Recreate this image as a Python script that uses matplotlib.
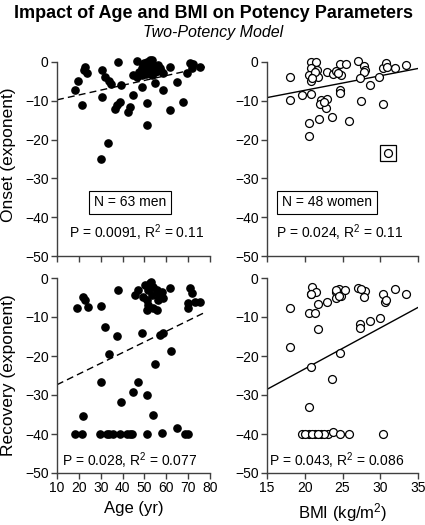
import matplotlib
matplotlib.use("Agg")
import matplotlib.pyplot as plt
import numpy as np

plt.rcParams['font.family'] = ['Liberation Sans', 'DejaVu Sans']
plt.rcParams['mathtext.fontset'] = 'custom'
plt.rcParams['mathtext.rm'] = 'Liberation Sans'
plt.rcParams['mathtext.it'] = 'Liberation Sans:italic'

title = "Impact of Age and BMI on Potency Parameters"
subtitle = "Two-Potency Model"

# Men: onset vs age
age_on = [22.8, 22.4, 23.6, 19.7, 18.2, 21.3, 30.4, 31.9, 33.9, 34.5, 38.0, 39.1, 30.4, 36.7, 37.3, 38.8, 33.2, 30.0,
          46.7, 51.0, 53.3, 54.1, 52.5, 50.3, 55.6, 57.1, 54.8, 61.7, 58.6, 53.3, 44.9, 48.7, 46.4, 48.7, 54.8, 58.6,
          64.7, 69.3, 70.8, 75.4, 71.6, 44.9, 51.0, 43.4, 42.6, 67.8, 61.7, 51.0,
          49.5, 51.0, 52.5, 53.0, 51.8, 49.0, 56.3, 55.6, 52.0, 47.5, 57.8, 50.5, 53.5, 72.2, 49.8]
onset_m = [-1.2, -2.0, -2.9, -5.0, -7.2, -11.0, -2.0, -3.8, -5.0, -5.6, 0.0, -5.8, -8.9, -12.0, -11.0, -10.4, -21.0, -25.1,
           0.3, -0.8, 0.5, -0.8, -1.6, -2.1, -1.2, -1.6, -2.5, -1.2, -2.9, -3.4, -3.4, -3.4, -3.8, -6.4, -5.5, -7.2,
           -5.1, -2.9, -0.3, -1.2, -1.6, -8.5, -10.6, -11.5, -12.8, -10.2, -12.4, -16.2,
           -0.8, 0.1, 0.5, -0.3, -1.2, -1.6, -0.8, -2.2, -2.9, -2.5, -2.2, -3.0, -1.8, -0.5, -0.2]

# Men: recovery vs age
age_rec = [19.0, 22.0, 22.8, 24.3, 30.0, 38.0, 32.0, 37.3, 33.9, 30.0, 44.6, 46.9, 51.0, 39.1, 22.0, 54.1, 54.8, 48.7,
           57.1, 58.6, 62.0,
           45.7, 47.2, 50.3, 52.5, 54.1, 51.8, 49.5, 51.0, 53.3, 55.6, 57.9, 61.7, 58.6, 56.3, 51.8, 54.1, 51.0, 55.6,
           70.8, 71.6, 70.1, 73.1, 75.4, 70.1,
           18.2, 21.3, 29.7, 32.7, 35.8, 38.8, 41.9, 44.2, 51.0, 57.9, 64.8, 68.6, 70.1,
           43.5, 34.0, 53.0, 52.0, 56.8]
recov_m = [-7.8, -4.8, -5.6, -7.4, -7.1, -3.1, -12.6, -14.8, -19.5, -26.6, -29.2, -26.7, -30.0, -31.7, -35.3, -35.1, -22.1,
           -14.2, -14.6, -14.2, -18.7,
           -4.4, -3.1, -1.8, -1.4, -2.2, -3.1, -4.8, -5.6, -4.4, -3.1, -3.5, -2.6, -5.2, -5.6, -6.9, -7.8, -8.2, -8.2,
           -2.6, -3.9, -6.5, -6.1, -6.1, -7.8,
           -40, -40, -40, -40, -40, -40, -40, -40, -40, -39.7, -38.5, -40, -40,
           -40, -40, -1.0, -2.5, -4.0]

# Women: onset vs BMI
bmi_on = [18.1, 18.0, 19.6, 20.8, 21.5, 20.8, 20.6, 21.6, 21.1, 21.7, 20.8, 20.8, 20.5, 20.5, 21.9, 22.2, 22.0, 22.8,
          23.0, 23.6, 23.0, 23.8, 24.2, 24.7, 24.8, 25.4, 24.7, 24.7, 25.8, 27.1, 27.8, 28.0, 27.9, 27.3, 27.4, 28.6,
          29.9, 30.3, 30.8, 30.4, 30.9, 32.0, 33.4, 31.0, 21.3, 22.5, 24.4, 20.9]
onset_w = [-3.8, -9.8, -8.5, 0.0, 0.0, -1.6, -3.4, -2.1, -3.8, -3.8, -4.9, -8.3, -15.8, -19.2, -14.7, -9.8, -10.8, -11.9,
           -9.6, -14.3, -2.5, -3.1, -2.2, -0.5, -3.4, -0.5, -7.2, -8.1, -15.1, 0.3, -1.0, -2.1, -2.6, -4.2, -10.0, -5.9,
           -3.9, -1.6, -0.2, -10.8, -1.4, -1.6, -0.8, -23.5, -2.6, -10.2, -2.8, -4.2]
outlier_bmi = [31.0]
outlier_onset = [-23.5]

# Women: recovery vs BMI
bmi_rec = [18.1, 18.0, 20.9, 20.8, 21.5, 21.7, 20.5, 21.4, 21.7, 20.8, 20.5, 23.0, 24.1, 24.2, 24.6, 24.8, 25.3, 24.7,
           23.6, 27.1, 28.0, 27.9, 27.3, 27.3, 28.6, 30.0, 30.4, 30.6, 30.7, 32.0, 33.4,
           19.6, 20.5, 21.4, 22.2, 23.1, 23.8, 24.7, 25.8, 30.4,
           20.0, 21.0, 22.6, 24.2, 24.5, 20.8, 27.5, 21.8]
recov_w = [-7.6, -17.6, -2.2, -4.2, -3.5, -6.7, -9.1, -9.1, -13.1, -22.7, -33.0, -6.2, -3.7, -5.0, -2.8, -4.5, -3.1, -19.3,
           -26.0, -2.5, -3.3, -4.8, -11.9, -12.7, -11.0, -10.2, -4.2, -6.1, -5.6, -2.9, -4.1,
           -40, -40, -40, -40, -40, -39.4, -40, -40, -40,
           -40, -40, -40, -3.2, -4.6, -4.0, -2.8, -40]

# Regression fits (slope, intercept, x-range)
fit_age_on = (0.125, -11.0, 10, 78)
fit_bmi_on = (0.375, -14.8, 15, 35)
fit_age_rec = (0.274, -30.1, 10, 78)
fit_bmi_rec = (1.05, -44.3, 15, 35)

stats_age_on = "P = 0.0091, R$^2$ = 0.11"
stats_bmi_on = "P = 0.024, R$^2$ = 0.11"
stats_age_rec = "P = 0.028, R$^2$ = 0.077"
stats_bmi_rec = "P = 0.043, R$^2$ = 0.086"
n_men = "N = 63 men"
n_women = "N = 48 women"

age_ticks = [10, 20, 30, 40, 50, 60, 70, 80]
bmi_ticks = [15, 20, 25, 30, 35]
y_ticks = [0, -10, -20, -30, -40, -50]

fig = plt.figure(figsize=(4.25, 5.25), dpi=100)
W, H = 425, 525

def mk_ax(x0, x1, ytop, ybot):
    return fig.add_axes([x0 / W, 1 - ybot / H, (x1 - x0) / W, (ybot - ytop) / H])

ax_tl = mk_ax(57, 210, 62, 256)
ax_tr = mk_ax(267, 418, 62, 256)
ax_bl = mk_ax(57, 210, 278, 473)
ax_br = mk_ax(267, 418, 278, 473)

spine_col = '#404040'
for ax, xt, xl in [(ax_tl, age_ticks, (10, 80)), (ax_bl, age_ticks, (10, 80)),
                   (ax_tr, bmi_ticks, (15, 35)), (ax_br, bmi_ticks, (15, 35))]:
    ax.set_xlim(*xl)
    ax.set_ylim(-50, 0)
    ax.set_xticks(xt)
    ax.set_yticks(y_ticks)
    for s in ['top', 'right']:
        ax.spines[s].set_visible(False)
    for s in ['left', 'bottom']:
        ax.spines[s].set_color(spine_col)
        ax.spines[s].set_linewidth(1.0)
    ax.tick_params(direction='out', length=4, width=1.0, color=spine_col, labelsize=10, pad=2)
    ax.patch.set_alpha(0)

ax_tl.tick_params(labelbottom=False)
ax_tr.tick_params(labelbottom=False)

ms = 5.2
ax_tl.plot(age_on, onset_m, 'o', color='black', ms=ms, clip_on=False, zorder=3)
ax_bl.plot(age_rec, recov_m, 'o', color='black', ms=ms, clip_on=False, zorder=3)
ax_tr.plot(bmi_on, onset_w, 'o', mfc='white', mec='black', mew=0.9, ms=ms + 0.5, clip_on=False, zorder=3)
ax_tr.plot(outlier_bmi, outlier_onset, 's', mfc='none', mec='black', mew=0.9, ms=11, zorder=3)
ax_br.plot(bmi_rec, recov_w, 'o', mfc='white', mec='black', mew=0.9, ms=ms + 0.5, clip_on=False, zorder=3)

def draw_fit(ax, fit, ls):
    m, b, xa, xb = fit
    xs = np.array([xa, xb])
    ax.plot(xs, m * xs + b, color='black', lw=1.0, ls=ls, zorder=2)

draw_fit(ax_tl, fit_age_on, (0, (5, 3)))
draw_fit(ax_bl, fit_age_rec, (0, (5, 3)))
draw_fit(ax_tr, fit_bmi_on, '-')
draw_fit(ax_br, fit_bmi_rec, '-')

box = dict(boxstyle='square,pad=0.35', fc='white', ec='black', lw=0.8)
ax_tl.text(43.6, -36.2, n_men, ha='center', va='center', fontsize=10, bbox=box)
ax_tr.text(22.9, -36.2, n_women, ha='center', va='center', fontsize=10, bbox=box)

ax_tl.text(46.4, -44.0, stats_age_on, ha='center', va='center', fontsize=10)
ax_tr.text(24.6, -44.0, stats_bmi_on, ha='center', va='center', fontsize=10)
ax_bl.text(43.4, -46.8, stats_age_rec, ha='center', va='center', fontsize=10)
ax_br.text(24.3, -46.8, stats_bmi_rec, ha='center', va='center', fontsize=10)

ax_bl.set_xlabel("Age (yr)", fontsize=12, labelpad=4)
ax_br.set_xlabel("BMI (kg/m$^2$)", fontsize=12, labelpad=4)
fig.text(9 / W, 1 - 155 / H, "Onset (exponent)", rotation=90, ha='center', va='center', fontsize=12.5)
fig.text(9 / W, 1 - 375 / H, "Recovery (exponent)", rotation=90, ha='center', va='center', fontsize=12.5)

fig.text(213 / W, 1 - 13 / H, title, ha='center', va='center', fontsize=13, fontweight='bold')
fig.text(213 / W, 1 - 33 / H, subtitle, ha='center', va='center', fontsize=11.5, style='italic')

fig.savefig("out.png", dpi=100)
